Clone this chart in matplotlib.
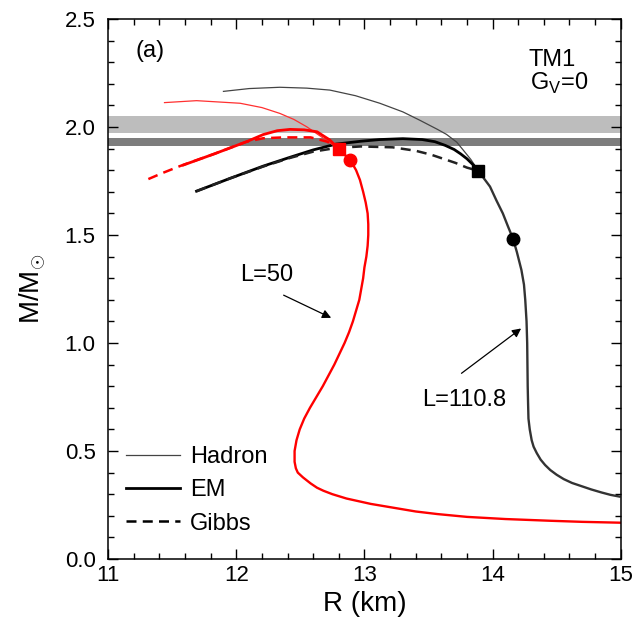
import numpy as np
import matplotlib
matplotlib.use("Agg")
import matplotlib.pyplot as plt
from matplotlib.lines import Line2D

plt.rcParams['font.family'] = ['Liberation Sans', 'DejaVu Sans']
plt.rcParams['mathtext.fontset'] = 'custom'
plt.rcParams['mathtext.rm'] = 'Liberation Sans'

# L = 110.8 (black)
had_R_k = [11.90, 12.10, 12.34, 12.55, 12.73, 12.93, 13.12, 13.30, 13.43, 13.57, 13.64, 13.72, 13.77, 13.83, 13.89]
had_M_k = [2.165, 2.178, 2.184, 2.180, 2.171, 2.145, 2.110, 2.070, 2.032, 1.989, 1.966, 1.930, 1.894, 1.850, 1.797]
em_R_k = [11.69, 11.95, 12.21, 12.42, 12.60, 12.78, 12.97, 13.12, 13.30, 13.45, 13.55, 13.63, 13.70, 13.75, 13.80, 13.85, 13.89]
em_M_k = [1.703, 1.762, 1.819, 1.860, 1.894, 1.921, 1.934, 1.942, 1.946, 1.942, 1.932, 1.915, 1.896, 1.876, 1.853, 1.824, 1.797]
gib_R_k = [11.69, 11.95, 12.21, 12.42, 12.60, 12.78, 12.97, 13.22, 13.40, 13.52, 13.62, 13.71, 13.80, 13.89]
gib_M_k = [1.703, 1.762, 1.817, 1.857, 1.886, 1.903, 1.910, 1.906, 1.890, 1.872, 1.852, 1.834, 1.812, 1.797]
com_R_k = [13.89, 13.935, 13.98, 14.03, 14.08, 14.12, 14.16, 14.19, 14.225, 14.245, 14.255, 14.265, 14.27, 14.272,
           14.274, 14.277, 14.28, 14.29, 14.305, 14.32, 14.345, 14.375, 14.41, 14.45, 14.50, 14.555, 14.62,
           14.69, 14.77, 14.85, 14.92, 14.99]
com_M_k = [1.797, 1.760, 1.724, 1.660, 1.600, 1.540, 1.482, 1.420, 1.338, 1.270, 1.199, 1.100, 1.000, 0.900,
           0.800, 0.720, 0.650, 0.600, 0.550, 0.520, 0.490, 0.460, 0.435, 0.412, 0.390, 0.370, 0.352,
           0.338, 0.322, 0.308, 0.297, 0.289]

# L = 50 (red)
had_R_r = [11.44, 11.69, 12.03, 12.20, 12.34, 12.45, 12.55, 12.68, 12.80]
had_M_r = [2.113, 2.122, 2.110, 2.090, 2.063, 2.035, 2.001, 1.948, 1.897]
em_R_r = [11.587, 11.83, 12.08, 12.21, 12.32, 12.42, 12.53, 12.63, 12.73, 12.80]
em_M_r = [1.824, 1.876, 1.932, 1.965, 1.983, 1.989, 1.987, 1.978, 1.940, 1.897]
gib_R_r = [11.314, 11.42, 11.56, 11.83, 12.08, 12.21, 12.37, 12.58, 12.71, 12.80]
gib_M_r = [1.759, 1.786, 1.819, 1.876, 1.932, 1.948, 1.952, 1.952, 1.932, 1.897]
com_R_r = [12.80, 12.89, 12.935, 12.965, 12.99, 13.01, 13.025, 13.03, 13.03, 13.025, 13.015, 13.00, 12.99, 12.975,
           12.96, 12.935, 12.91, 12.88, 12.845, 12.805, 12.765, 12.72, 12.675, 12.625, 12.575, 12.53, 12.495,
           12.47, 12.455, 12.455, 12.465, 12.48, 12.52, 12.58, 12.63, 12.68, 12.75, 12.86, 13.05, 13.25, 13.40,
           13.57, 13.80, 14.10, 14.45, 14.70, 15.0]
com_M_r = [1.897, 1.847, 1.800, 1.755, 1.700, 1.650, 1.600, 1.550, 1.500, 1.450, 1.400, 1.350, 1.300, 1.250,
           1.200, 1.150, 1.100, 1.050, 1.000, 0.950, 0.900, 0.850, 0.800, 0.750, 0.700, 0.650, 0.600,
           0.550, 0.500, 0.450, 0.420, 0.400, 0.378, 0.350, 0.330, 0.316, 0.300, 0.280, 0.255, 0.235, 0.220,
           0.208, 0.195, 0.185, 0.177, 0.172, 0.168]

# onset points (square) and central-density markers (circle)
sq_R = [13.89, 12.80]
sq_M = [1.797, 1.897]
ci_R = [14.16, 12.89]
ci_M = [1.482, 1.847]

# observational bands
band_light = (1.97, 2.05)
band_dark = (1.91, 1.95)

fig = plt.figure(figsize=(6.36, 6.34), dpi=100)
ax = fig.add_axes([0.170, 0.1183, 0.806, 0.8517])

ax.axhspan(*band_light, color='#bdbdbd', lw=0, zorder=0)
ax.axhspan(*band_dark, color='#7d7d7d', lw=0, zorder=0)

ax.plot(had_R_k, had_M_k, color='#444444', lw=0.9)
ax.plot(em_R_k, em_M_k, color='black', lw=2.0)
ax.plot(gib_R_k, gib_M_k, color='#222222', lw=1.8, ls=(0, (4, 2.5)))
ax.plot(com_R_k, com_M_k, color='#333333', lw=1.7)

ax.plot(had_R_r, had_M_r, color='#ff3030', lw=0.9)
ax.plot(em_R_r, em_M_r, color='red', lw=2.0)
ax.plot(gib_R_r, gib_M_r, color='red', lw=1.8, ls=(0, (4, 2.5)))
ax.plot(com_R_r, com_M_r, color='red', lw=1.7)

ax.plot(sq_R[0], sq_M[0], 's', color='black', ms=8)
ax.plot(sq_R[1], sq_M[1], 's', color='red', ms=8)
ax.plot(ci_R[0], ci_M[0], 'o', color='black', ms=9)
ax.plot(ci_R[1], ci_M[1], 'o', color='red', ms=9)

ax.set_xlim(11, 15)
ax.set_ylim(0, 2.5)
ax.set_xticks([11, 12, 13, 14, 15])
ax.set_yticks([0.0, 0.5, 1.0, 1.5, 2.0, 2.5])
ax.set_yticklabels(['0.0', '0.5', '1.0', '1.5', '2.0', '2.5'])
ax.set_xticks(np.arange(11, 15.01, 0.2), minor=True)
ax.set_yticks(np.arange(0, 2.501, 0.1), minor=True)
ax.tick_params(which='both', direction='in', top=True, right=True, width=1.0, labelsize=16)
ax.tick_params(which='major', length=7)
ax.tick_params(which='minor', length=4)
ax.tick_params(axis='x', pad=4)
ax.tick_params(axis='y', pad=9)
for s in ax.spines.values():
    s.set_linewidth(1.1)

ax.set_xlabel('R (km)', fontsize=20, labelpad=4)
ax.set_ylabel(r'M/M$_{\odot}$', fontsize=20, labelpad=12)

ax.text(11.215, 2.35, '(a)', fontsize=17, va='center')
ax.text(14.28, 2.31, 'TM1', fontsize=17, va='center')
ax.text(14.29, 2.20, r'G$_\mathregular{V}$=0', fontsize=17, va='center')

ax.text(12.03, 1.315, 'L=50', fontsize=17, va='center')
ax.annotate('', xy=(12.76, 1.111), xytext=(12.35, 1.227),
            arrowprops=dict(arrowstyle='-|>', color='black', lw=0.9, mutation_scale=13))
ax.text(13.45, 0.736, 'L=110.8', fontsize=17, va='center')
ax.annotate('', xy=(14.24, 1.075), xytext=(13.74, 0.852),
            arrowprops=dict(arrowstyle='-|>', color='black', lw=0.9, mutation_scale=13))

handles = [Line2D([], [], color='#444444', lw=0.9),
           Line2D([], [], color='black', lw=2.0),
           Line2D([], [], color='black', lw=1.8, ls=(0, (4, 2.5)))]
ax.legend(handles, ['Hadron', 'EM', 'Gibbs'], loc='lower left', bbox_to_anchor=(0.035, 0.045),
          frameon=False, fontsize=17, handlelength=2.3, handletextpad=0.4,
          labelspacing=0.48, borderaxespad=0, borderpad=0)

fig.savefig('out.png', dpi=100)
